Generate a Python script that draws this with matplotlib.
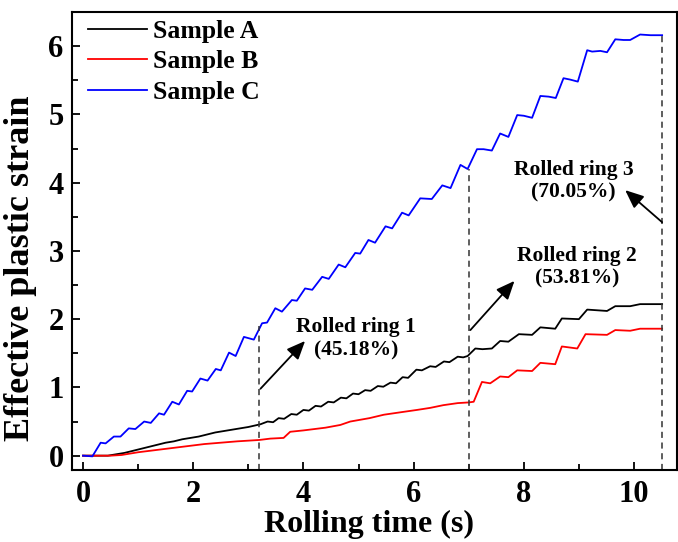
import matplotlib
matplotlib.use("Agg")
import matplotlib.pyplot as plt

# ---- data ----
t_A = [0, 0.45, 0.6, 0.75, 0.9, 1.05, 1.2, 1.35, 1.5, 1.65, 1.8, 1.95, 2.1, 2.25, 2.4, 2.55,
       2.7, 2.85, 3.0, 3.22, 3.35, 3.45, 3.55, 3.65, 3.78, 3.88, 4.0, 4.1, 4.22, 4.32, 4.45,
       4.55, 4.68, 4.78, 4.9, 5.0, 5.12, 5.22, 5.35, 5.45, 5.58, 5.68, 5.8, 5.9, 6.05, 6.15,
       6.3, 6.4, 6.55, 6.65, 6.8, 6.9, 6.98, 7.12, 7.25, 7.42, 7.57, 7.72, 7.91, 8.15, 8.30,
       8.57, 8.69, 9.0, 9.15, 9.51, 9.66, 9.93, 10.11, 10.51]
v_A = [0, 0, 0.02, 0.04, 0.07, 0.10, 0.13, 0.16, 0.19, 0.21, 0.24, 0.26, 0.28, 0.31, 0.34, 0.36,
       0.38, 0.40, 0.42, 0.46, 0.50, 0.49, 0.55, 0.54, 0.61, 0.60, 0.67, 0.66, 0.73, 0.72, 0.79,
       0.78, 0.85, 0.84, 0.91, 0.90, 0.96, 0.95, 1.02, 1.01, 1.07, 1.06, 1.15, 1.14, 1.26, 1.25,
       1.31, 1.30, 1.38, 1.37, 1.45, 1.44, 1.46, 1.57, 1.56, 1.57, 1.68, 1.67, 1.78, 1.77, 1.88,
       1.86, 2.01, 2.00, 2.14, 2.12, 2.19, 2.19, 2.22, 2.22]

t_B = [0, 0.5, 0.7, 1.0, 1.3, 1.6, 1.9, 2.2, 2.5, 2.8, 3.0, 3.2, 3.4, 3.64, 3.76, 4.0, 4.2,
       4.4, 4.67, 4.85, 5.2, 5.46, 5.8, 6.06, 6.3, 6.54, 6.8, 7.0, 7.09, 7.24, 7.39, 7.57,
       7.72, 7.88, 8.15, 8.30, 8.57, 8.69, 8.97, 9.12, 9.51, 9.66, 9.93, 10.11, 10.51]
v_B = [0, 0, 0.01, 0.05, 0.08, 0.11, 0.14, 0.17, 0.19, 0.21, 0.22, 0.23, 0.25, 0.26, 0.35, 0.37, 0.39,
       0.41, 0.45, 0.50, 0.55, 0.60, 0.64, 0.67, 0.70, 0.74, 0.77, 0.78, 0.79, 1.08, 1.06, 1.16,
       1.15, 1.25, 1.24, 1.36, 1.34, 1.60, 1.57, 1.78, 1.77, 1.84, 1.83, 1.86, 1.86]

t_C = [0, 0.17, 0.32, 0.41, 0.56, 0.68, 0.83, 0.95, 1.11, 1.23, 1.38, 1.47, 1.62, 1.74, 1.89,
       1.98, 2.13, 2.26, 2.41, 2.50, 2.65, 2.77, 2.92, 3.10, 3.25, 3.34, 3.49, 3.61, 3.79, 3.88,
       4.03, 4.16, 4.34, 4.46, 4.64, 4.76, 4.94, 5.03, 5.18, 5.30, 5.49, 5.61, 5.79, 5.91, 6.12,
       6.33, 6.52, 6.67, 6.85, 6.98, 7.15, 7.27, 7.42, 7.57, 7.72, 7.88, 8.00, 8.15, 8.30, 8.45,
       8.58, 8.72, 8.84, 8.98, 9.15, 9.24, 9.39, 9.51, 9.66, 9.81, 9.93, 10.11, 10.30, 10.51]
v_C = [0, -0.01, 0.19, 0.18, 0.28, 0.28, 0.40, 0.39, 0.50, 0.48, 0.62, 0.60, 0.79, 0.75, 0.95,
       0.94, 1.13, 1.10, 1.27, 1.25, 1.51, 1.46, 1.74, 1.70, 1.94, 1.95, 2.16, 2.11, 2.28, 2.27,
       2.45, 2.43, 2.62, 2.59, 2.80, 2.76, 2.97, 2.96, 3.16, 3.12, 3.36, 3.33, 3.56, 3.52, 3.77,
       3.76, 3.96, 3.92, 4.26, 4.20, 4.49, 4.49, 4.47, 4.72, 4.67, 4.99, 4.98, 4.95, 5.27, 5.26,
       5.24, 5.53, 5.51, 5.48, 5.94, 5.92, 5.93, 5.91, 6.10, 6.09, 6.09, 6.17, 6.16, 6.16]

series_names = ["Sample A", "Sample B", "Sample C"]
series_colors = ["black", "#ff0000", "#0000ff"]

ring_times = [3.2, 7.0, 10.5]
ring_tops = [1.9, 4.2, 6.16]
ring_labels = ["Rolled ring 1\n(45.18%)", "Rolled ring 2\n(53.81%)", "Rolled ring 3\n(70.05%)"]
arrow_tails = [(3.22, 0.98), (7.03, 1.84), (10.51, 3.42)]
arrow_heads = [(4.03, 1.68), (7.83, 2.56), (9.84, 3.89)]
label_pos = [(4.95, 1.71), (8.97, 2.76), (8.9, 4.02)]

x_ticks = [0, 2, 4, 6, 8, 10]
y_ticks = [0, 1, 2, 3, 4, 5, 6]

plt.rcParams['font.family'] = ['Liberation Serif', 'DejaVu Serif']
plt.rcParams['font.weight'] = 'bold'

fig = plt.figure(figsize=(6.78, 5.42), dpi=100)
ax = fig.add_axes([72/678, 1-470/542, 605/678, 458/542])

for t, v, name, c in zip([t_A, t_B, t_C], [v_A, v_B, v_C], series_names, series_colors):
    ax.plot(t, v, color=c, lw=1.3, label=name)

ymin, ymax = -0.21, 6.5
for rt, top in zip(ring_times, ring_tops):
    ax.vlines(rt, ymin, top, colors='#333333', linestyles=(0, (4, 3)), lw=1.1)

for (tx, ty), (hx, hy) in zip(arrow_tails, arrow_heads):
    ax.annotate("", xy=(hx, hy), xytext=(tx, ty),
                arrowprops=dict(arrowstyle='-|>,head_length=0.7,head_width=0.3', color='black', lw=1.3,
                                mutation_scale=16, shrinkA=0, shrinkB=0))
for (lx, ly), lab in zip(label_pos, ring_labels):
    ax.text(lx, ly, lab, ha='center', va='center', fontsize=15.5, fontweight='bold',
            linespacing=1.2)

ax.set_xlim(-0.2, 10.78)
ax.set_ylim(ymin, ymax)
ax.set_xticks(x_ticks)
ax.set_yticks(y_ticks)
ax.set_xticks([1, 3, 5, 7, 9], minor=True)
ax.set_yticks([0.5, 1.5, 2.5, 3.5, 4.5, 5.5], minor=True)
ax.tick_params(which='both', direction='in', width=1.3, labelsize=22)
ax.tick_params(axis='x', pad=7)
ax.tick_params(axis='y', pad=6)
ax.tick_params(which='major', length=6)
ax.tick_params(which='minor', length=4)
for lab in ax.get_xticklabels() + ax.get_yticklabels():
    lab.set_fontweight('bold')
for s in ax.spines.values():
    s.set_linewidth(1.5)

ax.set_xlabel("Rolling time (s)", fontsize=23, fontweight='bold')
ax.set_ylabel("Effective plastic strain", fontsize=26, fontweight='bold')
ax.xaxis.set_label_coords(0.491, -0.087)
ax.yaxis.set_label_coords(-0.058, 0.441)

ax.legend(loc='upper left', frameon=False, prop={'weight': 'bold', 'size': 18.5},
          handlelength=2.3, handletextpad=0.2, borderaxespad=0.0, labelspacing=0.3,
          bbox_to_anchor=(0.01, 1.006))

fig.savefig("out.png", dpi=100)
